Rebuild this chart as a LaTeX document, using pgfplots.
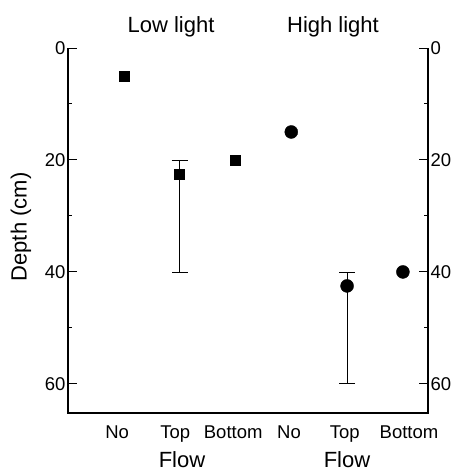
\documentclass[border=0pt]{standalone}
\usepackage{pgfplots}
\pgfplotsset{compat=1.18}
\usepackage{fontspec}
\setmainfont{Liberation Sans}
\begin{document}
\begin{tikzpicture}[x=1pt,y=1pt]
\useasboundingbox (0,0) rectangle (456,472);
\pgfplotsset{common/.style={
  scale only axis, width=360pt, height=365pt, at={(68pt,59pt)}, anchor=south west,
  xmin=0, xmax=6.45, ymin=0, ymax=65.2, y dir=reverse,
  ytick={0,20,40,60}, minor ytick={10,30,50},
  tick align=inside, major tick length=9pt, minor tick length=4pt,
  axis line style={draw=none},
  every tick/.style={black, line width=1pt},
  ticklabel style={font=\fontsize{18.5}{18.5}\selectfont},
  /pgf/number format/assume math mode=true,
  clip=false,
}}
\begin{axis}[common, ytick pos=both, yticklabel pos=left,
  xtick={0.88,1.92,2.96,3.96,4.96,6.11},
  xticklabels={No,Top,Bottom,No,Top,Bottom},
  xtick pos=bottom,
  x tick style={draw=none},
  xticklabel style={yshift=-9pt},
  yticklabel style={xshift=1pt}]
\draw[line width=1.1pt, line join=miter] (axis cs:0,0) -- (axis cs:0,65.2) -- (axis cs:6.45,65.2) -- (axis cs:6.45,0);
\addplot[only marks, mark=square*, mark size=5pt, black] coordinates {(1,5) (3,20)};
\addplot[only marks, mark=square*, mark size=5pt, black,
  error bars/.cd, y dir=both, y explicit,
  error bar style={line width=0.8pt, black},
  error mark options={rotate=90, mark size=8pt, line width=0.8pt, black}]
  coordinates {(2,22.5) += (0,17.5) -= (0,2.5)};
\addplot[only marks, mark=*, mark size=6.5pt, black] coordinates {(4,15) (6,40)};
\addplot[only marks, mark=*, mark size=6.5pt, black,
  error bars/.cd, y dir=both, y explicit,
  error bar style={line width=0.8pt, black},
  error mark options={rotate=90, mark size=8pt, line width=0.8pt, black}]
  coordinates {(5,42.5) += (0,17.5) -= (0,2.5)};
\end{axis}
\begin{axis}[common, xtick=\empty, ytick pos=right, yticklabel pos=right,
  major tick length=0pt, minor tick length=0pt,
  yticklabel style={xshift=-1pt}]
\end{axis}
\node[font=\fontsize{22}{22}\selectfont, anchor=base] at (171,439) {Low light};
\node[font=\fontsize{22}{22}\selectfont, anchor=base] at (333,439) {High light};
\node[font=\fontsize{22}{22}\selectfont, anchor=base, inner sep=0pt] at (182,5) {Flow};
\node[font=\fontsize{22}{22}\selectfont, anchor=base, inner sep=0pt] at (347,5) {Flow};
\node[font=\fontsize{22}{22}\selectfont, rotate=90] at (21,245) {Depth (cm)};
\end{tikzpicture}
\end{document}
